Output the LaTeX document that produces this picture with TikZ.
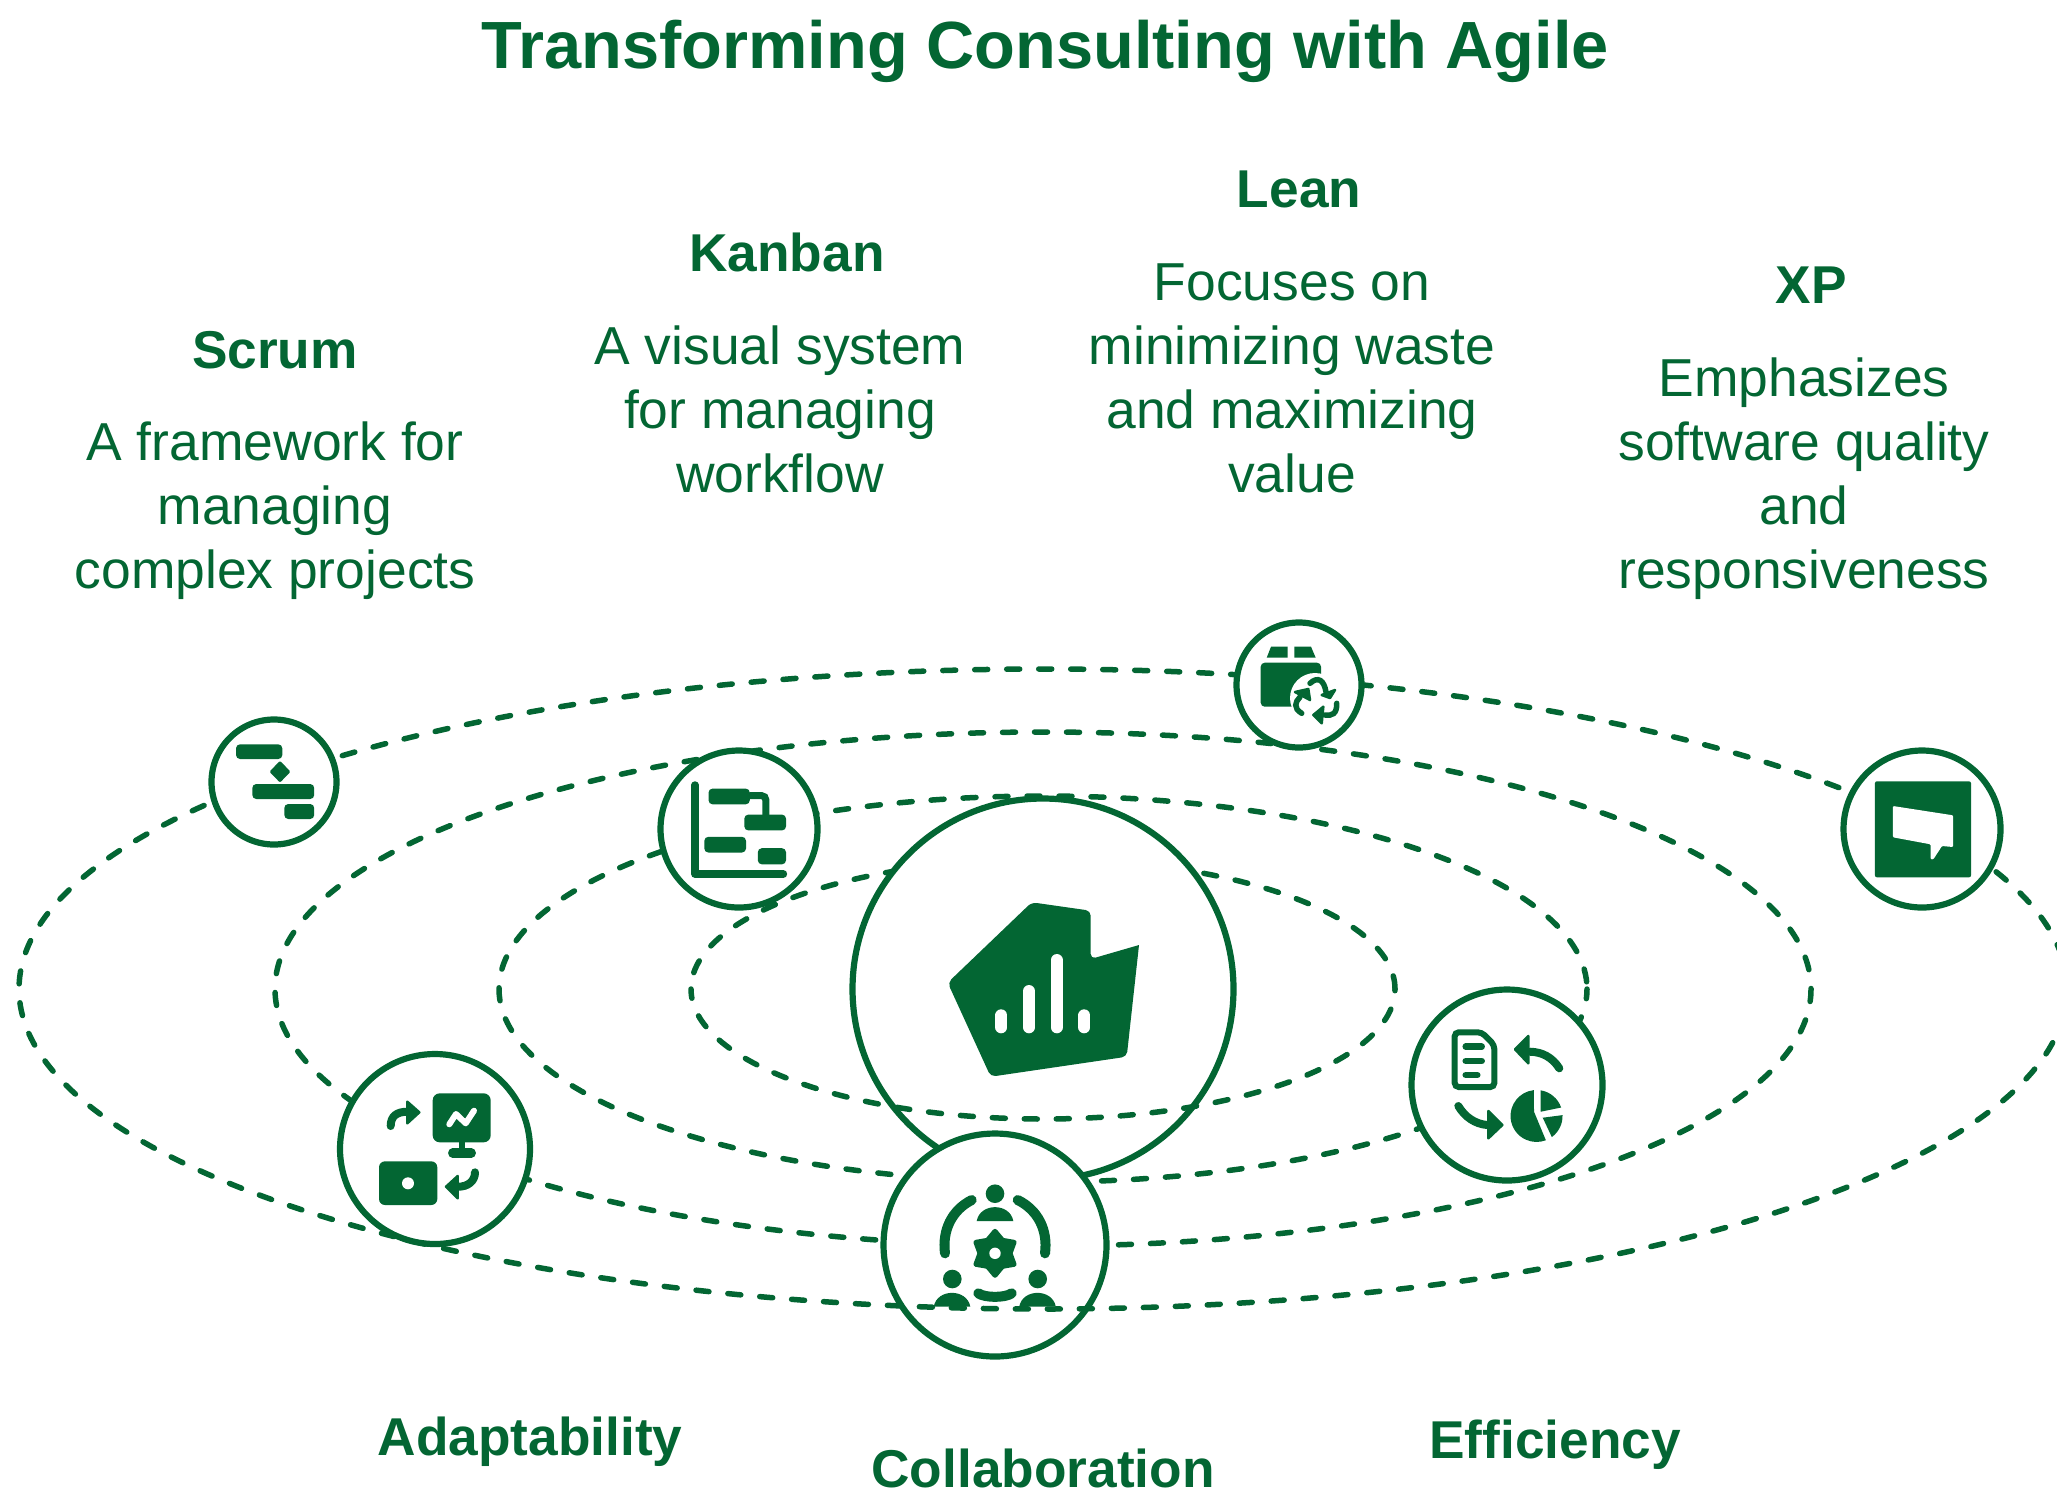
\documentclass[tikz,border=0pt]{standalone}
\usepackage{fontspec}
\setmainfont{Liberation Sans}
\usetikzlibrary{calc}
\definecolor{agile}{HTML}{036633}
\tikzset{
  orbit/.style={draw=agile,line width=.55mm,line cap=round,dash pattern=on 1.3mm off 1.9mm},
  ring/.style={circle,draw=agile,fill=white,line width=.62mm,minimum size=#1mm,inner sep=0pt,outer sep=0pt},
  title/.style={font=\fontsize{19}{22}\selectfont\bfseries,text=agile,anchor=base},
  head/.style={font=\fontsize{15.15}{18}\selectfont\bfseries,text=agile,anchor=base},
  body/.style={font=\fontsize{15.2}{18.2}\selectfont,text=agile,align=center},
  solid icon/.style={fill=agile,draw=agile,line width=.1mm,line join=round},
  bar/.style={fill=agile,rounded corners=.4mm},
  shaft/.style={draw=agile,line width=.8mm,line cap=round},
  tip/.style={fill=agile,draw=agile,line width=.25mm,line join=round},
  hole/.style={draw=white,line cap=round},
}
\begin{document}
\begin{tikzpicture}[x=.1mm,y=-.1mm]
  \useasboundingbox (0,0) rectangle (2057,1508);
  \coordinate (hub) at (1043,989);

  % orbits, only the lower half of the first and all of the last lie over the circles
  \draw[orbit,dash phase=3.175mm] (hub) ++(35.2mm,0) arc [start angle=0,end angle=180,x radius=35.2mm,y radius=13mm];
  \foreach \rx/\ry/\ph in {54.4/19.3/2.475,76.8/25.7/1.25}
    \draw[orbit,dash phase=\ph mm] (hub) ellipse [x radius=\rx mm,y radius=\ry mm];
  \node[ring=38.1] (core) at (hub) {};
  \draw[orbit,dash phase=.375mm] (hub) ++(-35.2mm,0) arc [start angle=180,end angle=360,x radius=35.2mm,y radius=13mm];
  \node[ring=22.3] (collab) at (995,1245) {};
  \draw[orbit,dash phase=3.125mm] (hub) ellipse [x radius=102.4mm,y radius=32mm];

  \node[ring=12.5] (scrum) at (274,782) {};
  \node[ring=15.7] (kanban) at (739,829) {};
  \node[ring=12.5] (lean) at (1299,685) {};
  \node[ring=15.7] (xp) at (1922,829) {};
  \node[ring=19] (adapt) at (435,1149) {};
  \node[ring=19.1] (effic) at (1507,1085) {};

  % texts
  \node[title] (maintitle) at (1045,68) {Transforming Consulting with Agile};
  \node[head] (scrumhead) at (275,368) {Scrum};
  \node[body] (scrumtext) at (275,511) {A framework for\\managing\\complex projects};
  \node[head] (kanbanhead) at (787,271) {Kanban};
  \node[body] (kanbantext) at (780,409) {A visual system\\for managing\\workflow};
  \node[head] (leanhead) at (1299,207) {Lean};
  \node[body] (leantext) at (1292,378) {Focuses on\\minimizing waste\\and maximizing\\value};
  \node[head] (xphead) at (1811,303) {XP};
  \node[body] (xptext) at (1804,479) {Emphasizes\\software quality\\and\\responsiveness};
  \node[head] (adapthead) at (530,1455) {Adaptability};
  \node[head] (collabhead) at (1043,1487) {Collaboration};
  \node[head] (effichead) at (1555,1458) {Efficiency};

  % core icon
  \fill[agile,rounded corners=.5mm] (1031.7,902.3) -- (1090.7,910.7) -- (1090.7,959) [sharp corners] -- (1139,945) [rounded corners=.5mm] -- (1126.7,1056.7) -- (990.7,1076.7) -- (947.7,982.7) -- cycle;
  \foreach \x/\top in {1001.3/1009.3,1029/985,1056.7/954,1084.3/1009.3}
    \draw[hole,line width=1.2mm] (\x,\top+6) -- (\x,1027.3);

  % scrum icon
  \fill[bar] (236,744.3) rectangle (282.3,759);
  \fill[bar] (252.3,784) rectangle (314.2,799);
  \fill[bar] (284.3,804) rectangle (314.2,819);
  \draw[solid icon,line width=.3mm] (280,763) -- (288.5,771.7) -- (280,780.4) -- (271.5,771.7) -- cycle;

  % kanban icon
  \draw[agile,line width=.75mm,line cap=round,line join=round] (695,785) -- (695,874) -- (783.4,874);
  \draw[agile,line width=.7mm,rounded corners=.4mm] (749.8,795.7) -- (765.8,795.7) -- (765.8,815);
  \fill[bar] (708.5,788.6) rectangle (749.8,804.3);
  \fill[bar] (744.3,814.6) rectangle (786,830.4);
  \fill[bar] (704.3,836.8) rectangle (746,852.5);
  \fill[bar] (757.8,848.2) rectangle (786,864.3);

  % lean icon
  \fill[agile] (1271,646.7) -- (1287.7,646.7) -- (1287.7,657.7) -- (1266.7,657.7) -- cycle;
  \fill[agile] (1294.3,646.7) -- (1311,646.7) -- (1315.7,657.7) -- (1294.3,657.7) -- cycle;
  \fill[bar] (1260.7,662.7) rectangle (1321,706.7);
  \fill[white] (1315,698) circle [radius=2.5mm];
  \draw[agile,line width=.55mm,line cap=round] (1310,683.3) .. controls (1318,676) and (1324,680) .. (1326,692);
  \draw[agile,line width=.55mm,line cap=round] (1301.7,713.3) .. controls (1293,708) and (1295,702) .. (1300,697);
  \draw[agile,line width=.55mm,line cap=round] (1336.7,703.3) .. controls (1337,714) and (1332,716) .. (1325,715);
  \draw[tip] (1335,690) -- (1330,698) -- (1321.7,695) -- cycle;
  \draw[tip] (1295,692) -- (1308.3,689) -- (1310,700) -- cycle;
  \draw[tip] (1323.3,706.7) -- (1313.3,715) -- (1321.7,723.3) -- cycle;

  % xp icon
  \fill[agile,rounded corners=.2mm] (1874.9,781.3) rectangle (1971,877.3);
  \fill[white,rounded corners=.1mm] (1892.9,806) -- (1953,815.3) -- (1953,847) -- (1942,846) -- (1933.3,859.3) -- (1930.6,859.3) -- (1930.6,844.3) -- (1892.9,837.3) -- cycle;

  % adaptability icon
  \fill[agile,rounded corners=.7mm] (432.7,1093.3) rectangle (490.7,1142.3);
  \fill[agile] (459,1140) rectangle (464.5,1152);
  \draw[agile,line width=.93mm,line cap=round] (452.7,1153) -- (471.3,1153);
  \draw[hole,line width=.6mm,line join=round] (449.3,1124.3) -- (456,1114) -- (465.7,1123.3) -- (474,1110.7);
  \draw[shaft] (390.7,1126) .. controls (390.7,1116) and (397,1111.7) .. (407.3,1111.7);
  \draw[tip] (407.3,1101.7) -- (419.3,1112.3) -- (407.3,1123.3) -- cycle;
  \fill[agile,rounded corners=.6mm] (379,1161.3) rectangle (437.3,1205);
  \fill[white] (408,1183.3) circle [radius=.6mm];
  \draw[shaft] (475,1172.3) .. controls (475,1181) and (468,1186.7) .. (458.3,1186.7);
  \draw[tip] (457.7,1176) -- (446,1186.7) -- (457.7,1198.3) -- cycle;

  % collaboration icon
  \foreach \x/\y in {995/1193.7,952.3/1279,1037.7/1279}
    \fill[agile] (\x,\y) circle [radius=.93mm];
  \foreach \x/\y in {995/1221,952/1306.7,1037.5/1306.7}
    \fill[agile] (\x-18.3,\y) .. controls (\x-15,\y-18.5) and (\x+15,\y-18.5) .. (\x+18.3,\y) -- cycle;
  \draw[agile,line width=1mm,line cap=round] (945,1253.3) .. controls (942,1230) and (952,1210) .. (971.7,1200);
  \draw[agile,line width=1mm,line cap=round] (1045,1253.3) .. controls (1048,1230) and (1038,1210) .. (1017.7,1200);
  \draw[agile,line width=1mm,line cap=round] (978.3,1293.3) .. controls (985,1298) and (1005,1298) .. (1011.7,1293.3);
  \foreach \a in {30,90,150,210,270,330}
    \fill[agile,draw=agile,line width=.5mm,line join=round] ($(995,1253.3)+(\a+30:15)$) -- ($(995,1253.3)+(\a:22)$) -- ($(995,1253.3)+(\a-30:15)$) -- (995,1253.3) -- cycle;
  \fill[white] (995,1253.3) circle [radius=.57mm];

  % efficiency icon
  \draw[agile,line width=.6mm,rounded corners=.4mm] (1454.7,1032.3) -- (1481.7,1032.3) -- (1494.3,1045) -- (1494.3,1087) -- (1454.7,1087) -- cycle;
  \foreach \y/\xe in {1046.7/1481.7,1061/1481.7,1075/1477.3}
    \draw[agile,line width=.65mm,line cap=round] (1465.7,\y) -- (\xe,\y);
  \draw[shaft] (1559.3,1068.3) .. controls (1552,1057) and (1542,1052) .. (1530,1051.7);
  \draw[tip] (1528.3,1036) -- (1515,1049.3) -- (1528.3,1063.3) -- cycle;
  \draw[shaft] (1458.3,1106) .. controls (1465,1117) and (1475,1124) .. (1487.3,1125);
  \draw[tip] (1488.3,1111) -- (1502.3,1125) -- (1488.3,1138.3) -- cycle;
  \fill[agile] (1533.8,1090.1) arc [start angle=96,end angle=291,radius=2.6mm] -- (1534,1111.7) -- cycle;
  \fill[agile] (1540.6,1090.3) arc [start angle=81,end angle=19,radius=2.6mm] -- (1540.7,1111.7) -- cycle;
  \fill[agile] (1562.5,1115.1) arc [start angle=2,end angle=-54,radius=2.6mm] -- (1542.7,1117.7) -- cycle;
\end{tikzpicture}
\end{document}
